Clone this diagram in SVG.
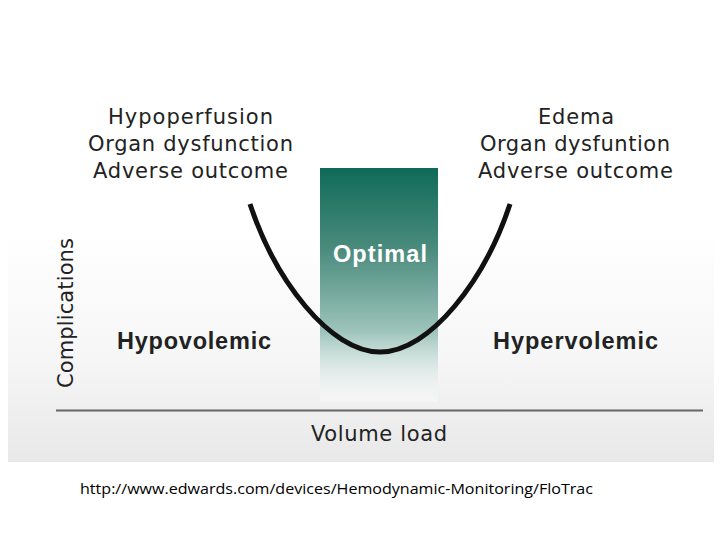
<svg xmlns="http://www.w3.org/2000/svg" width="720" height="540" viewBox="0 0 720 540">
<defs>
<linearGradient id="bg" x1="0" y1="0" x2="0" y2="1">
<stop offset="0" stop-color="#ffffff"/>
<stop offset="0.5" stop-color="#ffffff"/>
<stop offset="0.78" stop-color="#f6f6f6"/>
<stop offset="1" stop-color="#e8e8e8"/>
</linearGradient>
<linearGradient id="opt" x1="0" y1="0" x2="0" y2="1">
<stop offset="0" stop-color="#0f6a58"/>
<stop offset="0.35" stop-color="#4b8c7e"/>
<stop offset="0.7" stop-color="#9ec4bb"/>
<stop offset="1" stop-color="#ffffff" stop-opacity="0.3"/>
</linearGradient>
<style>
.t{font-family:"DejaVu Sans","Liberation Sans",sans-serif;fill:#222;font-size:21px;text-anchor:middle}
.b{font-family:"Liberation Sans",Arial,sans-serif;font-weight:bold;font-size:23.5px;text-anchor:middle;fill:#222}
</style>
</defs>
<rect x="0" y="0" width="720" height="540" fill="#fff"/>
<rect x="8" y="0" width="706" height="462" fill="url(#bg)"/>
<g id="optimal-zone">
<rect x="320" y="168" width="118" height="234" fill="url(#opt)"/>
<text class="b" x="380" y="262" style="fill:#fff" textLength="94">Optimal</text>
</g>
<g id="connectors">
<path d="M250,204 C275,280 330,352 380,352 C430,352 485,280 510,204" fill="none" stroke="#111" stroke-width="5"/>
<line x1="56" y1="410.5" x2="703" y2="410.5" stroke="#666" stroke-width="2"/>
</g>
<g id="left-labels">
<text class="t" x="190.5" y="124" textLength="165">Hypoperfusion</text>
<text class="t" x="190.5" y="151" textLength="205">Organ dysfunction</text>
<text class="t" x="190.5" y="178" textLength="195">Adverse outcome</text>
</g>
<g id="right-labels">
<text class="t" x="576" y="124" textLength="76">Edema</text>
<text class="t" x="575" y="151" textLength="190">Organ dysfuntion</text>
<text class="t" x="575.5" y="178" textLength="195">Adverse outcome</text>
</g>
<g id="hypovolemic"><text class="b" x="194" y="349" textLength="154">Hypovolemic</text></g>
<g id="hypervolemic"><text class="b" x="575.5" y="349" textLength="165">Hypervolemic</text></g>
<g id="y-axis"><text class="t" transform="translate(73,313) rotate(-90)" x="0" y="0" textLength="150">Complications</text></g>
<g id="x-axis"><text class="t" x="379" y="441" textLength="136">Volume load</text></g>
<text x="80" y="494" font-family="Open Sans,'Liberation Sans',sans-serif" font-size="15" fill="#000" textLength="513" lengthAdjust="spacingAndGlyphs">http://www.edwards.com/devices/Hemodynamic-Monitoring/FloTrac</text>
</svg>
